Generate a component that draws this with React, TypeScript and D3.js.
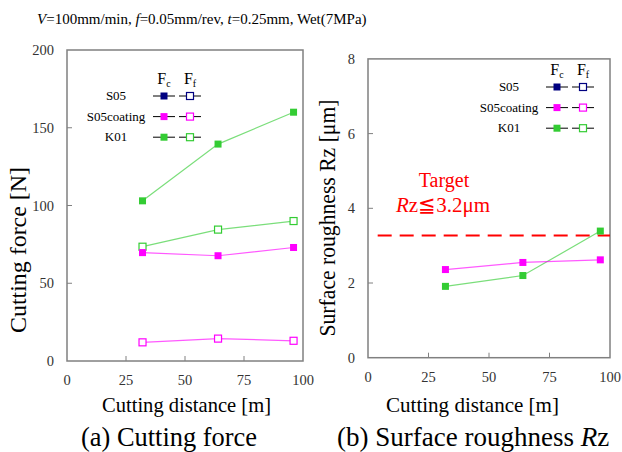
import React from 'react';
import * as d3 from 'd3';

const distance = [32, 64, 96];
const k01Fc = [103, 139.5, 160];
const k01Ff = [73.5, 84.5, 90];
const coatFc = [69.7, 67.7, 73];
const coatFf = [12, 14.4, 13];
const k01Rz = [1.91, 2.2, 3.39];
const coatRz = [2.36, 2.55, 2.62];
const targetRz = 3.27;
const xTicks = [0, 25, 50, 75, 100];
const forceTicks = [0, 50, 100, 150, 200];
const rzTicks = [0, 2, 4, 6, 8];
const legendNames = ['S05', 'S05coating', 'K01'];
const legendColors = ['#000080', '#ff00ff', '#33cc33'];

const FRAME = '#808080';
const TF = { fontFamily: 'Liberation Serif' };

function Marker({ x, y, color, filled }: { x: number; y: number; color: string; filled: boolean }) {
  return (
    <rect x={x - 3.5} y={y - 3.5} width={7} height={7}
      fill={filled ? color : '#fff'} stroke={color} strokeWidth={filled ? 0 : 1.2} />
  );
}

function Series({ xs, ys, x, y, color, filled }: any) {
  const line = d3.line<number>().x((d, i) => x(xs[i])).y(d => y(d));
  return (
    <g>
      <path d={line(ys) || ''} fill="none" stroke={color} strokeWidth={1.2} opacity={0.65} />
      {ys.map((v: number, i: number) => (
        <Marker key={i} x={x(xs[i])} y={y(v)} color={color} filled={filled} />
      ))}
    </g>
  );
}

function Legend({ cx, fcX, ffX, y0, step }: any) {
  return (
    <g>
      <text style={TF} x={fcX} y={y0 - 12} fontSize={16} textAnchor="middle">F<tspan fontSize={10} dy={3}>c</tspan></text>
      <text style={TF} x={ffX} y={y0 - 12} fontSize={16} textAnchor="middle">F<tspan fontSize={10} dy={3}>f</tspan></text>
      {legendNames.map((n, i) => {
        const yy = y0 + i * step;
        return (
          <g key={n}>
            <text style={TF} x={cx} y={yy + 4} fontSize={13} textAnchor="middle">{n}</text>
            <line x1={fcX - 11} x2={fcX + 11} y1={yy} y2={yy} stroke="#000" strokeWidth={1} />
            <Marker x={fcX} y={yy} color={legendColors[i]} filled={true} />
            <line x1={ffX - 11} x2={ffX + 11} y1={yy} y2={yy} stroke="#000" strokeWidth={1} />
            <Marker x={ffX} y={yy} color={legendColors[i]} filled={false} />
          </g>
        );
      })}
    </g>
  );
}

function Frame({ x, y, yTicks }: any) {
  const [x0, x1] = x.range();
  const [yb, yt] = y.range();
  return (
    <g fill="#333">
      <rect x={x0} y={yt} width={x1 - x0} height={yb - yt} fill="none" stroke={FRAME} strokeWidth={1.5} />
      {xTicks.slice(1, -1).map(t => (
        <line key={t} x1={x(t)} x2={x(t)} y1={yb} y2={yb - 5} stroke={FRAME} />
      ))}
      {yTicks.slice(1, -1).map((t: number) => (
        <line key={t} x1={x0} x2={x0 + 5} y1={y(t)} y2={y(t)} stroke={FRAME} />
      ))}
      {xTicks.map(t => (
        <text style={TF} key={t} x={x(t)} y={yb + 24} fontSize={14.5} textAnchor="middle">{t}</text>
      ))}
      {yTicks.map((t: number) => (
        <text style={TF} key={t} x={x0 - 13} y={y(t) + 5} fontSize={14.5} textAnchor="end">{t}</text>
      ))}
    </g>
  );
}

export default function App() {
  const xL = d3.scaleLinear().domain([0, 100]).range([67, 303]);
  const yL = d3.scaleLinear().domain([0, 200]).range([361, 50]);
  const xR = d3.scaleLinear().domain([0, 100]).range([368, 610]);
  const yR = d3.scaleLinear().domain([0, 8]).range([357.7, 58.9]);

  return (
    <svg width={622} height={452} style={{ position: 'absolute', left: 0, top: 0, background: '#fff', fontFamily: 'Liberation Serif' }}>
      <text style={TF} x={37} y={24} fontSize={15}>
        <tspan fontStyle="italic">V</tspan>=100mm/min, <tspan fontStyle="italic">f</tspan>=0.05mm/rev, <tspan fontStyle="italic">t</tspan>=0.25mm, Wet(7MPa)
      </text>

      {/* left: cutting force */}
      <Frame x={xL} y={yL} yTicks={forceTicks} />
      <Series xs={distance} ys={k01Fc} x={xL} y={yL} color="#33cc33" filled={true} />
      <Series xs={distance} ys={k01Ff} x={xL} y={yL} color="#33cc33" filled={false} />
      <Series xs={distance} ys={coatFc} x={xL} y={yL} color="#ff00ff" filled={true} />
      <Series xs={distance} ys={coatFf} x={xL} y={yL} color="#ff00ff" filled={false} />
      <Legend cx={116} fcX={164} ffX={190} y0={96} step={20.6} />
      <text style={TF} transform="translate(26,250) rotate(-90)" fontSize={24} textAnchor="middle"
        textLength={166} lengthAdjust="spacingAndGlyphs">Cutting force [N]</text>
      <text style={TF} x={102} y={412} fontSize={22} textLength={169} lengthAdjust="spacingAndGlyphs">Cutting distance [m]</text>
      <text style={TF} x={81} y={446} fontSize={27} textLength={176} lengthAdjust="spacingAndGlyphs">(a) Cutting force</text>

      {/* right: surface roughness */}
      <Frame x={xR} y={yR} yTicks={rzTicks} />
      <line x1={xR(4)} x2={xR(100)} y1={yR(targetRz)} y2={yR(targetRz)} stroke="#ff0000" strokeWidth={2} strokeDasharray="14,8" />
      <Series xs={distance} ys={k01Rz} x={xR} y={yR} color="#33cc33" filled={true} />
      <Series xs={distance} ys={coatRz} x={xR} y={yR} color="#ff00ff" filled={true} />
      <Legend cx={509} fcX={557} ffX={583} y0={87} step={20.6} />
      <text style={TF} x={444} y={187} fontSize={20} fill="#ff0000" textAnchor="middle">Target</text>
      <text style={TF} x={443} y={212} fontSize={21} fill="#ff0000" textAnchor="middle">
        <tspan fontStyle="italic">R</tspan>z≦3.2μm
      </text>
      <text style={TF} transform="translate(335,218) rotate(-90)" fontSize={22.5} textAnchor="middle"
        textLength={237} lengthAdjust="spacingAndGlyphs">Surface roughness Rz [μm]</text>
      <text style={TF} x={386} y={412} fontSize={22} textLength={173} lengthAdjust="spacingAndGlyphs">Cutting distance [m]</text>
      <text style={TF} x={337} y={446} fontSize={27}>(b) Surface roughness <tspan fontStyle="italic">R</tspan>z</text>
    </svg>
  );
}
